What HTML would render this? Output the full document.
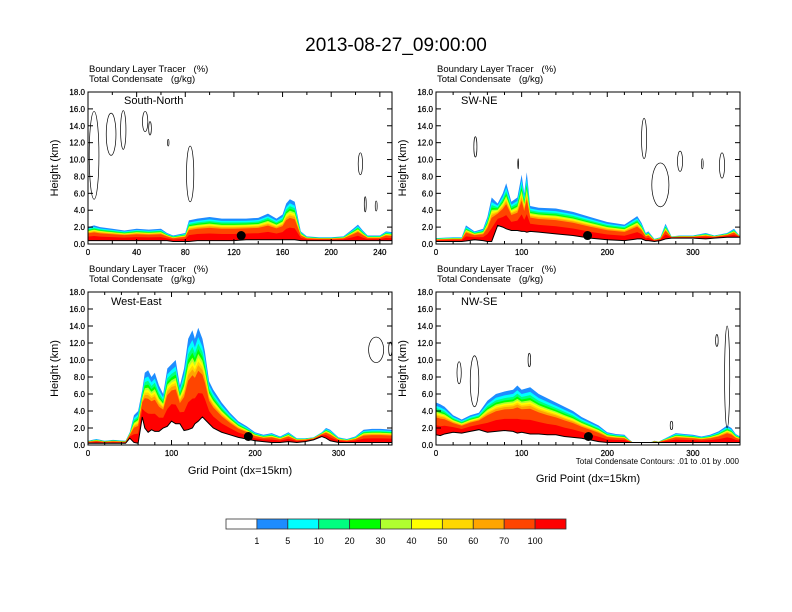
<!DOCTYPE html>
<html><head><meta charset="utf-8"><style>
body{margin:0;background:#fff}
svg{display:block;font-family:"Liberation Sans",Arial,sans-serif}
</style></head><body>
<svg id="c" width="792" height="612" xmlns="http://www.w3.org/2000/svg">
<text x="396" y="51" font-size="19" text-anchor="middle">2013-08-27_09:00:00</text>
<g id="panels"></g>
<g id="cbar"></g>
</svg>
<script>
const levelColors=["#1e8cff","#00ffff","#00ff80","#00ff00","#b0ff30","#ffff00","#ffd700","#ffa500","#ff4500","#ff0000"];
const levelFracs=[1.0,0.9,0.83,0.77,0.72,0.68,0.64,0.6,0.54,0.3];
const cbarLabels=["1","5","10","20","30","40","50","60","70","100"];
const cbarColors=["#ffffff","#1e8cff","#00ffff","#00ff80","#00ff00","#b0ff30","#ffff00","#ffd700","#ffa500","#ff4500","#ff0000"];

const p1X=[0,5,10,20,30,40,50,60,65,70,80,83,90,100,110,120,130,140,148,155,160,163,166,170,175,180,190,200,210,218,222,226,230,240,245,250];
const p1Top=[2.0,2.2,2.0,1.8,1.6,1.8,1.7,1.8,1.3,1.0,1.3,2.8,3.0,3.2,3.0,3.0,3.0,3.1,3.6,3.0,3.5,4.8,5.3,5.0,1.5,0.9,0.8,0.8,0.9,1.8,2.3,1.6,1.0,1.0,1.5,1.4];
const p1Terr=[0.4,0.4,0.4,0.4,0.4,0.4,0.4,0.4,0.4,0.3,0.3,0.3,0.4,0.4,0.4,0.4,0.5,0.5,0.5,0.5,0.5,0.5,0.5,0.5,0.4,0.4,0.4,0.4,0.4,0.4,0.4,0.4,0.4,0.4,0.4,0.4];
const p2X=[0,20,30,35,45,55,60,65,72,78,82,88,95,100,103,106,110,120,140,160,180,200,220,235,240,245,248,255,262,268,275,285,300,315,325,340,348,355];
const p2Top=[0.7,0.8,0.8,2.2,1.5,1.8,3.2,5.5,4.8,6.0,7.2,5.0,5.5,8.2,6.0,8.5,4.5,4.3,4.2,3.8,3.2,2.6,2.3,3.3,2.5,1.3,1.5,0.6,0.8,2.4,0.9,1.0,1.0,1.3,1.0,1.3,1.8,0.9];
const p2Terr=[0.3,0.3,0.3,0.35,0.5,0.4,0.3,0.3,2.2,2.0,1.8,1.6,1.6,1.5,1.5,1.4,1.5,1.4,1.2,1.0,0.7,0.5,0.4,0.6,0.6,0.4,0.4,0.3,0.4,0.6,0.7,0.7,0.7,0.6,0.7,0.8,0.8,0.8];
const p3X=[0,10,20,30,45,50,55,60,65,68,72,76,80,85,90,95,100,105,110,115,120,125,128,132,137,140,145,150,160,170,180,190,200,210,220,230,240,250,260,270,280,285,290,300,310,320,330,340,350,364];
const p3Top=[0.5,0.7,0.5,0.6,0.5,1.5,3.5,4.0,6.5,8.5,8.8,8.0,8.5,7.0,6.0,9.0,9.5,10.0,7.0,9.0,12.5,13.5,12.5,13.8,12.5,11.0,7.5,6.5,5.0,3.8,2.8,2.2,1.5,1.2,1.4,1.0,1.5,0.8,0.8,0.9,1.5,2.0,1.8,0.9,0.7,1.0,1.8,1.9,1.9,1.8];
const p3Terr=[0.2,0.2,0.2,0.2,0.2,0.8,0.3,0.2,3.3,2.0,1.5,1.8,1.6,1.6,2.0,2.2,2.8,2.5,2.5,1.7,1.8,2.0,2.5,2.8,3.3,3.0,2.5,2.0,1.5,1.2,0.9,0.7,0.5,0.4,0.3,0.3,0.4,0.3,0.4,0.6,1.0,0.8,0.5,0.3,0.3,0.3,0.3,0.3,0.3,0.3];
const p4X=[0,5,10,20,30,40,50,60,70,80,90,95,100,110,120,130,140,150,160,170,180,190,200,210,220,225,230,250,255,260,270,280,290,300,310,320,330,340,345,350,355];
const p4Top=[5.0,4.8,4.5,3.5,3.0,3.5,3.8,5.2,6.0,6.3,6.5,7.0,6.5,6.8,6.0,5.5,5.0,4.5,4.0,3.3,2.8,2.3,1.5,1.3,1.2,0.7,0.3,0.3,0.5,0.4,0.9,1.4,1.3,1.2,1.0,1.2,1.6,2.3,2.0,1.3,1.0];
const p4Terr=[1.2,1.1,1.3,1.5,1.4,1.6,1.8,1.5,1.6,1.7,1.6,1.4,1.5,1.3,1.3,1.2,1.2,1.0,0.9,0.8,0.6,0.4,0.3,0.3,0.3,0.3,0.3,0.3,0.3,0.3,0.3,0.3,0.3,0.3,0.3,0.3,0.3,0.3,0.3,0.3,0.3];
// contour ellipses: [centerX, centerKm, radiusX, radiusKm]
const p1Contours=[[5,10.5,4,5.2],[19,13,4,2.5],[29,13.5,2.2,2.3],[47,14.5,2.2,1.2],[51,13.7,1.1,0.8],[66,12,0.6,0.4],[84,8.3,3,3.3],[224,9.5,1.8,1.3],[228,4.7,0.8,0.9],[237,4.5,0.8,0.6]];
const p2Contours=[[46,11.5,1.8,1.2],[96,9.5,0.5,0.6],[243,12.5,3,2.4],[262,7,10,2.6],[285,9.8,3,1.2],[311,9.5,1,0.6],[334,9.3,3,1.5]];
const p3Contours=[[345,11.2,9,1.5],[362,11.3,2,0.8]];
const p4Contours=[[27,8.5,2.5,1.3],[45,7.5,5,3],[109,10,1.5,0.8],[275,2.3,1.5,0.5],[328,12.3,1.5,0.7],[340,8,3,6]];
const dots=[[126,1.0],[177,1.0],[192,1.0],[178,1.0]];

const panels=[
 {name:"south-north",label:"South-North",L:88,T:92,W:304,H:152,xmax:250,ticks:[0,40,80,120,160,200,240],minor:20,X:p1X,Top:p1Top,Terr:p1Terr,C:p1Contours,lx:124,ly:104},
 {name:"sw-ne",label:"SW-NE",L:436,T:92,W:304,H:152,xmax:355,ticks:[0,100,200,300],minor:20,X:p2X,Top:p2Top,Terr:p2Terr,C:p2Contours,lx:461,ly:104},
 {name:"west-east",label:"West-East",L:88,T:292,W:304,H:153,xmax:364,ticks:[0,100,200,300],minor:20,X:p3X,Top:p3Top,Terr:p3Terr,C:p3Contours,lx:111,ly:305},
 {name:"nw-se",label:"NW-SE",L:436,T:292,W:304,H:153,xmax:355,ticks:[0,100,200,300],minor:20,X:p4X,Top:p4Top,Terr:p4Terr,C:p4Contours,lx:461,ly:305}
];
const NS="http://www.w3.org/2000/svg";
function mk(tag,attrs,parent,text){const e=document.createElementNS(NS,tag);for(const k in attrs)e.setAttribute(k,attrs[k]);if(text!==undefined)e.textContent=text;parent.appendChild(e);return e;}
const root=document.getElementById('panels');
panels.forEach((p,pi)=>{
 const g=mk('g',{},root);
 
 
 const sx=v=>p.L+v/p.xmax*p.W, sy=v=>p.T+p.H-v/18*p.H;
 const h1=mk('text',{x:p.L+1,y:p.T-20,'font-size':9.5},g,"Boundary Layer Tracer   (%)");
 h1.style.whiteSpace='pre';
 const h2=mk('text',{x:p.L+1,y:p.T-10,'font-size':9.5},g,"Total Condensate   (g/kg)");
 h2.style.whiteSpace='pre';
 const clip='clip'+pi;
 const cp=mk('clipPath',{id:clip},g);mk('rect',{x:p.L,y:p.T,width:p.W,height:p.H},cp);
 const fg=mk('g',{'clip-path':'url(#'+clip+')'},g);
 levelColors.forEach((col,k)=>{
  let pts=p.X.map((x,i)=>sx(x)+','+sy(p.Terr[i]+levelFracs[k]*(p.Top[i]-p.Terr[i])));
  for(let i=p.X.length-1;i>=0;i--)pts.push(sx(p.X[i])+','+sy(p.Terr[i]));
  const poly=mk('polygon',{points:pts.join(' '),fill:col},fg);
  
  
 });
 let tp=p.X.map((x,i)=>sx(x)+','+sy(p.Terr[i])).join(' ');
 const terr=mk('polyline',{points:tp,fill:'none',stroke:'#000','stroke-width':1},fg);
 
 
 p.C.forEach(c=>{
  const el=mk('ellipse',{cx:sx(c[0]),cy:sy(c[1]),rx:c[2]/p.xmax*p.W,ry:c[3]/18*p.H,fill:'none',stroke:'#000','stroke-width':0.7},fg);
  
  
 });
 const d=dots[pi];
 const dot=mk('circle',{cx:sx(d[0]),cy:sy(d[1]),r:4.5,fill:'#000'},fg);
 
 
 const fr=mk('rect',{x:p.L,y:p.T,width:p.W,height:p.H,fill:'none',stroke:'#000','stroke-width':1},g);
 
 
 for(let v=0;v<=18;v+=2){
  const y=sy(v);
  mk('line',{x1:p.L,x2:p.L+5,y1:y,y2:y,stroke:'#000'},g);
  mk('line',{x1:p.L+p.W,x2:p.L+p.W-5,y1:y,y2:y,stroke:'#000'},g);
  const t=mk('text',{x:p.L-3,y:y+3,'font-size':8,'text-anchor':'end','stroke':'#000','stroke-width':0.2},g,v.toFixed(1));
  
  
 }
 for(let v=0;v<=p.xmax;v+=p.minor){
  const x=sx(v),maj=p.ticks.includes(v),len=maj?5:3;
  mk('line',{x1:x,x2:x,y1:p.T+p.H,y2:p.T+p.H-len,stroke:'#000'},g);
  mk('line',{x1:x,x2:x,y1:p.T,y2:p.T+len,stroke:'#000'},g);
 }
 p.ticks.forEach(v=>{
  const t=mk('text',{x:sx(v),y:p.T+p.H+11,'font-size':8,'text-anchor':'middle','stroke':'#000','stroke-width':0.2},g,String(v));
  
  
 });
 const yl=mk('text',{x:0,y:0,'font-size':11,'text-anchor':'middle',transform:`translate(${p.L-30},${p.T+p.H/2}) rotate(-90)`},g,"Height (km)");
 
 
 const lb=mk('text',{x:p.lx,y:p.ly,'font-size':11},g,p.label);
 
 
});
const xt1=mk('text',{x:240,y:474,'font-size':11,'text-anchor':'middle'},root,"Grid Point (dx=15km)");


const xt2=mk('text',{x:588,y:482,'font-size':11,'text-anchor':'middle'},root,"Grid Point (dx=15km)");


const note=mk('text',{x:739,y:464,'font-size':8,'text-anchor':'end'},root,"Total Condensate Contours: .01 to .01 by .000");


const cb=document.getElementById('cbar');
const bw=340/cbarColors.length;
cbarColors.forEach((c,i)=>{
 const r=mk('rect',{x:226+i*bw,y:519,width:bw,height:10,fill:c,stroke:'#333','stroke-width':0.8},cb);
 
 
});
cbarLabels.forEach((l,i)=>{
 const t=mk('text',{x:226+(i+1)*bw,y:544,'font-size':9,'text-anchor':'middle'},cb,l);
 
 
});
</script>
</body></html>
